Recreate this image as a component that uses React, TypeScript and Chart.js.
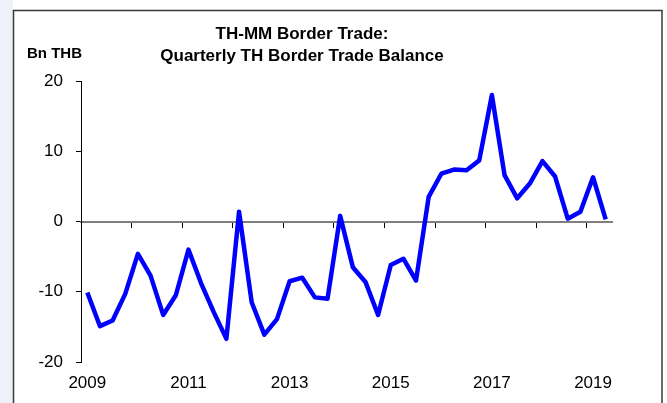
import React, { useEffect, useRef } from "react";
import { Chart, registerables } from "chart.js";

Chart.register(...registerables);

// ---- Data ----
const firstYear = 2009;
const quarterLabels: string[] = [
  "2009Q1","2009Q2","2009Q3","2009Q4",
  "2010Q1","2010Q2","2010Q3","2010Q4",
  "2011Q1","2011Q2","2011Q3","2011Q4",
  "2012Q1","2012Q2","2012Q3","2012Q4",
  "2013Q1","2013Q2","2013Q3","2013Q4",
  "2014Q1","2014Q2","2014Q3","2014Q4",
  "2015Q1","2015Q2","2015Q3","2015Q4",
  "2016Q1","2016Q2","2016Q3","2016Q4",
  "2017Q1","2017Q2","2017Q3","2017Q4",
  "2018Q1","2018Q2","2018Q3","2018Q4",
  "2019Q1","2019Q2",
];
const tradeBalance: number[] = [
  -10.1, -14.9, -14.1, -10.3,
  -4.6, -7.7, -13.3, -10.5,
  -4.0, -8.8, -12.9, -16.7,
  1.4, -11.5, -16.1, -13.9,
  -8.5, -8.0, -10.8, -11.0,
  0.8, -6.5, -8.6, -13.3,
  -6.2, -5.3, -8.4, 3.5,
  6.8, 7.4, 7.3, 8.7,
  18.0, 6.6, 3.3, 5.4,
  8.6, 6.4, 0.4, 1.4,
  6.3, 0.3,
];
const labelYears: number[] = [2009, 2011, 2013, 2015, 2017, 2019];
const boundaryYears: number[] = [2009, 2010, 2011, 2012, 2013, 2014, 2015, 2016, 2017, 2018, 2019];
const yTicks: number[] = [-20, -10, 0, 10, 20];
const titleLines: string[] = ["TH-MM Border Trade:", "Quarterly TH Border Trade Balance"];
const unitLabel = "Bn THB";

const FONT = "'Liberation Sans', Arial, Helvetica, sans-serif";

const decorPlugin = {
  id: "decor",
  beforeDraw(chart: any) {
    const ctx = chart.ctx;
    ctx.save();
    ctx.fillStyle = "#ffffff";
    ctx.fillRect(0, 0, chart.width, chart.height);
    ctx.fillStyle = "#eef1f9";
    ctx.fillRect(0, 0, 13, chart.height);
    ctx.restore();
  },
  afterDraw(chart: any) {
    const ctx = chart.ctx;
    ctx.save();
    ctx.strokeStyle = "#3a3a3a";
    ctx.lineWidth = 1.5;
    ctx.strokeRect(13.5, 10.5, 648.5, chart.height + 10);
    ctx.fillStyle = "#000";
    ctx.textBaseline = "alphabetic";
    ctx.textAlign = "center";
    ctx.font = `bold 17px ${FONT}`;
    ctx.fillText(titleLines[0], 302, 39);
    ctx.fillText(titleLines[1], 302, 61);
    ctx.textAlign = "left";
    ctx.font = `bold 15px ${FONT}`;
    ctx.fillText(unitLabel, 27, 58);
    ctx.restore();
  },
};

export default function App() {
  const canvasRef = useRef<HTMLCanvasElement | null>(null);

  useEffect(() => {
    if (!canvasRef.current) return;
    const points = tradeBalance.map((v, i) => ({ x: i, y: v }));
    const maxX = quarterLabels.length - 0.5;
    const chart = new Chart(canvasRef.current, {
      type: "line",
      data: {
        datasets: [
          {
            label: "TH Border Trade Balance",
            data: points,
            borderColor: "#0000ff",
            borderWidth: 4.5,
            pointRadius: 0,
            tension: 0,
            borderJoinStyle: "round",
            borderCapStyle: "butt",
            fill: false,
          },
        ],
      },
      options: {
        animation: false,
        responsive: false,
        maintainAspectRatio: false,
        devicePixelRatio: 1,
        layout: { padding: { top: 81, left: 0, right: 55, bottom: 0 } },
        plugins: {
          legend: { display: false },
          title: { display: false },
          tooltip: { enabled: false },
        },
        scales: {
          x: {
            type: "linear",
            position: "bottom",
            min: -0.5,
            max: maxX,
            afterBuildTicks: (scale: any) => {
              scale.ticks = labelYears.map((y) => ({ value: (y - firstYear) * 4 }));
            },
            afterFit: (scale: any) => {
              scale.height = 41;
            },
            grid: { display: false },
            border: { display: false },
            ticks: {
              autoSkip: false,
              maxRotation: 0,
              padding: 3,
              color: "#000",
              font: { family: FONT, size: 17 },
              callback: (v: any) => String(firstYear + Math.round(Number(v) / 4)),
            },
          },
          x2: {
            type: "linear",
            position: { y: 0 } as any,
            min: -0.5,
            max: maxX,
            afterBuildTicks: (scale: any) => {
              scale.ticks = boundaryYears.map((y) => ({ value: (y - firstYear) * 4 - 0.5 }));
            },
            ticks: { display: false },
            grid: {
              drawOnChartArea: false,
              drawTicks: true,
              tickLength: 5,
              tickColor: "#000",
              tickWidth: 1,
            },
            border: { display: true, color: "#7f7f7f", width: 2 },
          },
          y: {
            type: "linear",
            position: "left",
            min: -20,
            max: 20,
            afterBuildTicks: (scale: any) => {
              scale.ticks = yTicks.map((v) => ({ value: v }));
            },
            afterFit: (scale: any) => {
              scale.width = 81;
            },
            grid: {
              drawOnChartArea: false,
              drawTicks: true,
              tickLength: 5,
              tickColor: "#000",
              tickWidth: 1,
            },
            border: { display: true, color: "#000", width: 1 },
            ticks: {
              padding: 13,
              color: "#000",
              font: { family: FONT, size: 17 },
            },
          },
        },
      },
      plugins: [decorPlugin],
    } as any);
    return () => chart.destroy();
  }, []);

  return (
    <div style={{ position: "fixed", left: 0, top: 0, width: 667, height: 403 }}>
      <canvas ref={canvasRef} width={667} height={403} style={{ width: 667, height: 403, display: "block" }} />
    </div>
  );
}
